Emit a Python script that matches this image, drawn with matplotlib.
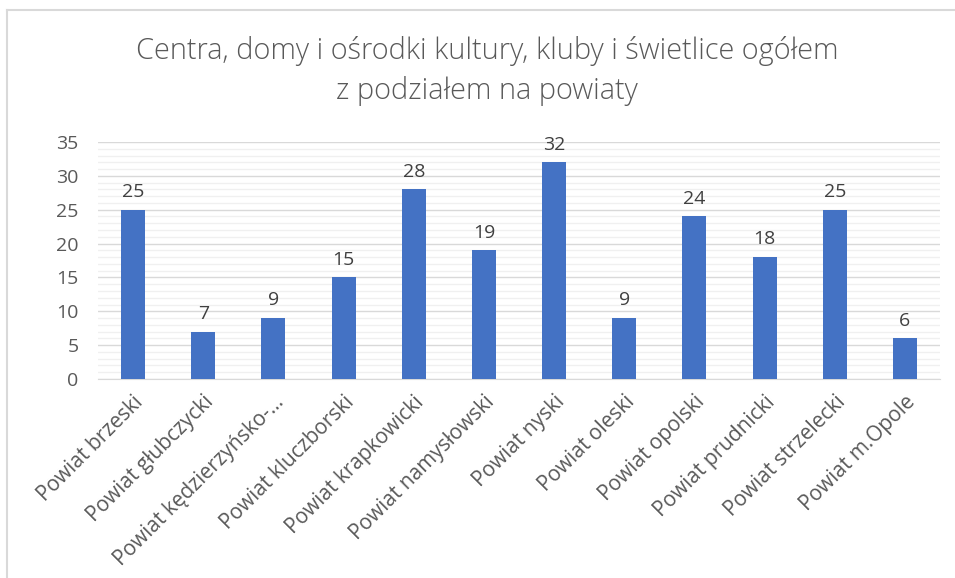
import matplotlib.pyplot as plt
from matplotlib.lines import Line2D
from matplotlib.ticker import MultipleLocator

categories = ['Powiat brzeski', 'Powiat głubczycki', 'Powiat kędzierzyńsko-…',
              'Powiat kluczborski', 'Powiat krapkowicki', 'Powiat namysłowski',
              'Powiat nyski', 'Powiat oleski', 'Powiat opolski', 'Powiat prudnicki',
              'Powiat strzelecki', 'Powiat m.Opole']
values = [25, 7, 9, 15, 28, 19, 32, 9, 24, 18, 25, 6]

plt.rcParams['font.family'] = ['Open Sans', 'DejaVu Sans']
text_color = '#595959'

fig = plt.figure(figsize=(9.55, 5.78), dpi=100)
ax = fig.add_axes([98 / 955, 1 - 379 / 578, 842 / 955, 237 / 578])

x = range(len(categories))
ax.bar(x, values, width=0.34, color='#4472C4', zorder=3)
for i, v in zip(x, values):
    ax.text(i, v + 1.3, str(v), ha='center', va='bottom', fontsize=14, color='#404040')

ax.set_xlim(-0.5, len(categories) - 0.5)
ax.set_ylim(0, 35)
ax.yaxis.set_major_locator(MultipleLocator(5))
ax.yaxis.set_minor_locator(MultipleLocator(1))
ax.grid(axis='y', which='major', color='#D9D9D9', linewidth=1.0, zorder=0)
ax.grid(axis='y', which='minor', color='#F0F0F0', linewidth=1.0, zorder=0)
for s in ['top', 'right', 'left']:
    ax.spines[s].set_visible(False)
ax.spines['bottom'].set_color('#D9D9D9')
ax.tick_params(axis='both', which='both', length=0)
ax.tick_params(axis='y', labelsize=14, labelcolor=text_color, pad=14)
ax.set_xticks(list(x))
ax.set_xticklabels(categories, rotation=45, ha='right', rotation_mode='anchor',
                   fontsize=15, color=text_color)
ax.tick_params(axis='x', pad=9)

fig.text(0.51, 1 - 51 / 578, 'Centra, domy i ośrodki kultury, kluby i świetlice ogółem',
         ha='center', va='center', fontsize=20.8, color=text_color, fontweight='light')
fig.text(0.51, 1 - 91 / 578, 'z podziałem na powiaty',
         ha='center', va='center', fontsize=20.8, color=text_color, fontweight='light')

border = dict(color='#D9D9D9', linewidth=1.5, transform=fig.transFigure)
fig.lines.append(Line2D([7 / 955, 1.0], [1 - 10 / 578] * 2, **border))
fig.lines.append(Line2D([7 / 955] * 2, [0.0, 1 - 10 / 578], **border))

fig.savefig('out.png', dpi=100)
